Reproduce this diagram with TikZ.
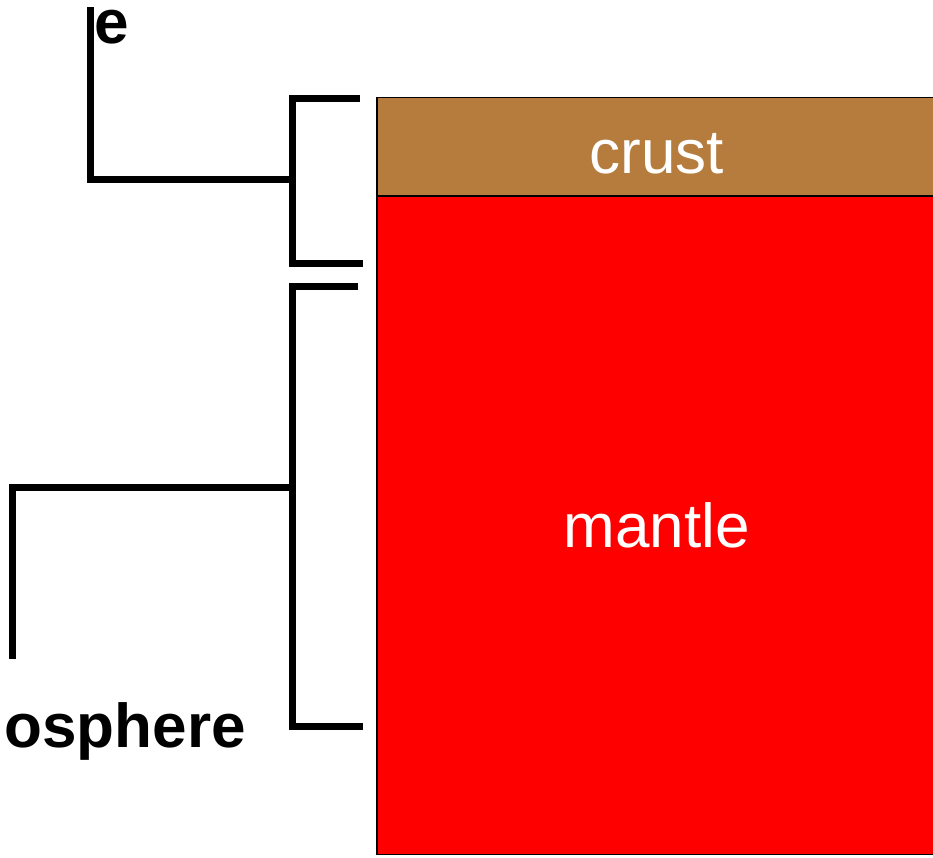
\documentclass[tikz,border=0pt]{standalone}
\usepackage{fontspec}
\setmainfont{Liberation Sans}
\usetikzlibrary{positioning}

\definecolor{crustbrown}{RGB}{181,124,62}

\begin{document}
\begin{tikzpicture}[
  x=1pt,y=1pt,
  every node/.style={font=\fontsize{62}{70}\selectfont},
  layer/.style={draw=black,line width=1.5pt,minimum width=560pt,
                inner sep=0pt,text=white},
  brack/.style={line width=7pt,line join=miter},
  lbl/.style={font=\fontsize{62}{70}\selectfont\bfseries,inner sep=0pt},
]
\useasboundingbox (0,0) rectangle (933,858);
\clip (0,0) rectangle (933,858);
% layers
\node[layer,fill=crustbrown,minimum height=98pt,text height=53pt,text depth=0pt,anchor=north west] (crust) at (376,761) {crust};
\node[layer,fill=red,minimum height=658pt,anchor=north west,yshift=0.75pt] (mantle) at (crust.south west) {mantle};
% labels, cut by the frame
\node[lbl,anchor=base west] (litho) at (94,814) {e};
\node[lbl,anchor=base east] (astheno) at (246,110) {osphere};
% brackets
\coordinate (c1t) at (360,759);
\coordinate (c1b) at (363,594);
\coordinate (c1m) at (292,678);
\coordinate (c1e) at (90,851);
\draw[brack] (c1t) -- (292,759) -- (292,594) -- (c1b);
\draw[brack] (c1m) -- (90,678) -- (c1e);
\coordinate (c2t) at (358,571);
\coordinate (c2b) at (363,131);
\coordinate (c2m) at (292,370);
\coordinate (c2e) at (12,199);
\draw[brack] (c2t) -- (292,571) -- (292,131) -- (c2b);
\draw[brack] (c2m) -- (12,370) -- (c2e);
\end{tikzpicture}
\end{document}
